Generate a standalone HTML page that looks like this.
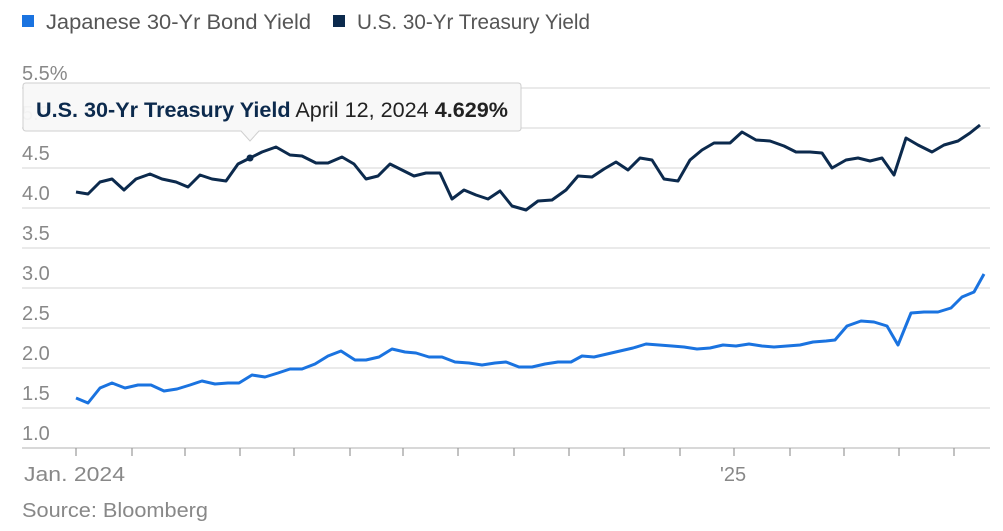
<!DOCTYPE html>
<html><head><meta charset="utf-8"><style>
body{margin:0;background:#fff;width:1003px;height:526px;overflow:hidden;font-family:"Liberation Sans",sans-serif}
</style></head><body>
<svg width="1003" height="526" xmlns="http://www.w3.org/2000/svg" font-family="Liberation Sans, sans-serif">
<rect x="22" y="15" width="12" height="12" fill="#1a73e0"/>
<text x="46" y="29" font-size="21" fill="#555" textLength="265" lengthAdjust="spacingAndGlyphs">Japanese 30-Yr Bond Yield</text>
<rect x="333" y="15" width="12" height="12" fill="#0c2a4d"/>
<text x="357" y="29" font-size="21" fill="#555" textLength="233" lengthAdjust="spacingAndGlyphs">U.S. 30-Yr Treasury Yield</text>
<g stroke="#e3e3e3" stroke-width="1.5">
<line x1="22" x2="990" y1="88" y2="88"/><line x1="22" x2="990" y1="128" y2="128"/>
<line x1="22" x2="990" y1="168" y2="168"/><line x1="22" x2="990" y1="208" y2="208"/>
<line x1="22" x2="990" y1="248" y2="248"/><line x1="22" x2="990" y1="288" y2="288"/>
<line x1="22" x2="990" y1="328" y2="328"/><line x1="22" x2="990" y1="368" y2="368"/>
<line x1="22" x2="990" y1="408" y2="408"/>
</g>
<line x1="22" x2="990" y1="448" y2="448" stroke="#ccc" stroke-width="1.5"/>
<g stroke="#999" stroke-width="1.2">
<line x1="76" x2="76" y1="448" y2="456"/><line x1="132" x2="132" y1="448" y2="456"/><line x1="185" x2="185" y1="448" y2="456"/><line x1="240" x2="240" y1="448" y2="456"/><line x1="294" x2="294" y1="448" y2="456"/><line x1="350" x2="350" y1="448" y2="456"/><line x1="403" x2="403" y1="448" y2="456"/><line x1="458" x2="458" y1="448" y2="456"/><line x1="514" x2="514" y1="448" y2="456"/><line x1="569" x2="569" y1="448" y2="456"/><line x1="624" x2="624" y1="448" y2="456"/><line x1="680" x2="680" y1="448" y2="456"/><line x1="734" x2="734" y1="448" y2="456"/><line x1="790" x2="790" y1="448" y2="456"/><line x1="844" x2="844" y1="448" y2="456"/><line x1="899" x2="899" y1="448" y2="456"/><line x1="954" x2="954" y1="448" y2="456"/>
</g>
<g font-size="20" fill="#888">
<text x="22" y="80">5.5%</text><text x="22" y="120">5.0</text><text x="22" y="160">4.5</text><text x="22" y="200">4.0</text><text x="22" y="240">3.5</text><text x="22" y="280">3.0</text><text x="22" y="320">2.5</text><text x="22" y="360">2.0</text><text x="22" y="400">1.5</text><text x="22" y="440">1.0</text>
<text x="24" y="481" textLength="101" lengthAdjust="spacingAndGlyphs">Jan. 2024</text><text x="720" y="481">'25</text>
<text x="22" y="517" textLength="186" lengthAdjust="spacingAndGlyphs">Source: Bloomberg</text>
</g>
<polyline fill="none" stroke="#1a73e0" stroke-width="3" stroke-linejoin="round" points="76,398 88,403 100,388 112,383 125,388 138,385 151,385 164,391 177,389 190,385 202,381 215,384 228,383 239,383 252,375 265,377 278,373 290,369 302,369 315,364 328,356 341,351 355,360 366,360 379,357 392,349 405,352 416,353 429,357 442,357 455,362 469,363 482,365 495,363 506,362 519,367 532,367 545,364 558,362 571,362 582,356 594,357 607,354 620,351 633,348 646,344 659,345 672,346 684,347 697,349 710,348 723,345 736,346 749,344 762,346 774,347 787,346 800,345 813,342 826,341 835,340 847,326 861,321 874,322 887,326 898,345 911,313 924,312 938,312 951,308 962,297 974,292 984,274"/>
<polyline fill="none" stroke="#0c2a4d" stroke-width="3" stroke-linejoin="round" points="76,192 88,194 100,182 112,179 124,190 136,179 150,174 162,179 176,182 188,187 200,175 212,179 226,181 238,164 250,158 262,152 276,147 290,155 302,156 316,163 328,163 342,157 354,164 366,179 378,176 390,164 402,170 414,176 426,173 440,173 452,199 464,190 476,195 488,199 500,191 512,206 526,210 538,201 552,200 566,190 578,176 592,177 604,169 616,162 628,170 640,158 652,160 664,179 678,181 690,160 702,150 714,143 730,143 742,132 756,140 770,141 784,146 796,152 810,152 822,153 832,168 846,160 858,158 870,161 882,158 894,175 906,138 918,145 932,152 944,145 958,141 970,133 980,125"/>
<circle cx="250" cy="158" r="3.5" fill="#0c2a4d"/>
<path d="M26,83 H518 Q521,83 521,86 V128 Q521,131 518,131 H259 L250,141 L241,131 H26 Q23,131 23,128 V86 Q23,83 26,83 Z" fill="#f8f8f8" fill-opacity="0.95" stroke="#cfcfcf" stroke-width="1"/>
<text x="36" y="117" font-size="21" fill="#222" textLength="472" lengthAdjust="spacingAndGlyphs"><tspan font-weight="bold" fill="#0c2a4d">U.S. 30-Yr Treasury Yield</tspan> April 12, 2024 <tspan font-weight="bold">4.629%</tspan></text>
</svg>
</body></html>
